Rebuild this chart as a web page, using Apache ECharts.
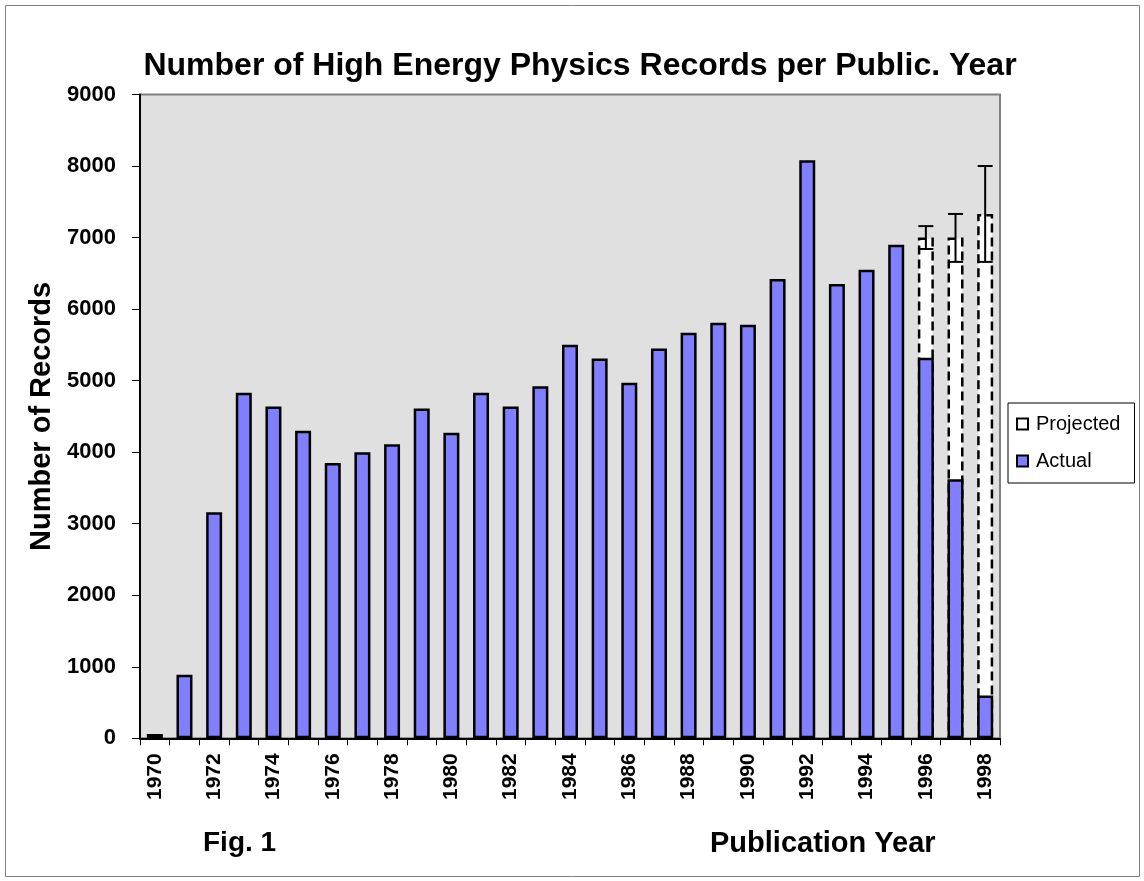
<!DOCTYPE html>
<html>
<head>
<meta charset="utf-8">
<script src="https://cdn.jsdelivr.net/npm/echarts@6/dist/echarts.min.js"></script>
<style>
html,body{margin:0;padding:0;background:#fff;}
#chart{width:1144px;height:881px;}
</style>
</head>
<body>
<div id="chart"></div>
<script>
const years = ['1970','1971','1972','1973','1974','1975','1976','1977','1978','1979','1980','1981','1982','1983','1984','1985','1986','1987','1988','1989','1990','1991','1992','1993','1994','1995','1996','1997','1998'];
const actual = [60, 890, 3160, 4830, 4640, 4300, 3850, 4000, 4110, 4610, 4270, 4830, 4640, 4920, 5500, 5310, 4970, 5450, 5670, 5810, 5780, 6420, 8080, 6350, 6550, 6900, 5320, 3620, 600];
const projected = [null,null,null,null,null,null,null,null,null,null,null,null,null,null,null,null,null,null,null,null,null,null,null,null,null,null, 7000, 7000, 7330];
const errYears = ['1996','1997','1998'];
const errLow = [6840, 6660, 6660];
const errHigh = [7160, 7330, 8000];
const yTicks = [0, 1000, 2000, 3000, 4000, 5000, 6000, 7000, 8000, 9000];

const FONT = '"Liberation Sans", Arial, sans-serif';
const chart = echarts.init(document.getElementById('chart'));

const errData = errYears.map((y, i) => [years.indexOf(y), errLow[i], errHigh[i]]);

chart.setOption({
  animation: false,
  backgroundColor: '#ffffff',
  textStyle: { fontFamily: FONT },
  title: {
    text: 'Number of High Energy Physics Records per Public. Year',
    left: 575, top: 45, textAlign: 'center',
    textStyle: { fontFamily: FONT, fontSize: 32, fontWeight: 'bold', color: '#000' }
  },
  grid: {
    left: 140, right: 144, top: 94.5, bottom: 142.7,
    show: true, backgroundColor: '#E0E0E0', borderColor: '#808080', borderWidth: 2
  },
  legend: {
    orient: 'vertical', left: 1008, top: 403,
    data: ['Projected', 'Actual'],
    icon: 'rect',
    backgroundColor: '#ffffff', borderColor: '#000', borderWidth: 1, borderRadius: 0,
    padding: [11, 14, 12, 8], itemGap: 17, itemWidth: 11, itemHeight: 11,
    textStyle: { fontFamily: FONT, fontSize: 20, color: '#000', padding: [0, 0, 0, 3] }
  },
  xAxis: {
    type: 'category', data: years, boundaryGap: true,
    axisLine: { lineStyle: { color: '#000', width: 2 } },
    axisTick: { show: true, alignWithLabel: false, interval: 0, length: 7, lineStyle: { color: '#000', width: 1 } },
    axisLabel: { interval: 1, rotate: 90, margin: 15, fontFamily: FONT, fontSize: 21, fontWeight: 'bold', color: '#000' },
    splitLine: { show: false }
  },
  yAxis: {
    type: 'value', min: 0, max: 9000, interval: 1000,
    name: 'Number of Records', nameLocation: 'middle', nameGap: 84, nameRotate: 90,
    nameTextStyle: { fontFamily: FONT, fontSize: 29, fontWeight: 'bold', color: '#000' },
    axisLine: { show: true, lineStyle: { color: '#000', width: 2 } },
    axisTick: { show: true, length: 8, lineStyle: { color: '#000', width: 1 } },
    axisLabel: {
      margin: 24, fontFamily: FONT, fontSize: 22, fontWeight: 'bold', color: '#000',
      formatter: v => yTicks.includes(v) ? String(v) : ''
    },
    splitLine: { show: false }
  },
  series: [
    {
      name: 'Projected', type: 'bar', data: projected, barWidth: 16, z: 2,
      itemStyle: { color: '#ffffff', borderColor: '#000', borderWidth: 2.5, borderType: [9, 5] }
    },
    {
      name: 'Actual', type: 'bar', data: actual, barWidth: 16, barGap: '-100%', z: 3,
      itemStyle: { color: '#8080FF', borderColor: '#000', borderWidth: 2.5 }
    },
    {
      name: 'err', type: 'custom', z: 4, data: errData,
      encode: { x: 0, y: [1, 2] },
      renderItem: function (params, api) {
        const x = api.value(0);
        const lo = api.coord([x, api.value(1)]);
        const hi = api.coord([x, api.value(2)]);
        const hw = 7.5;
        const st = { stroke: '#000', lineWidth: 2 };
        return {
          type: 'group',
          children: [
            { type: 'line', shape: { x1: lo[0], y1: lo[1], x2: hi[0], y2: hi[1] }, style: st },
            { type: 'line', shape: { x1: lo[0] - hw, y1: lo[1], x2: lo[0] + hw, y2: lo[1] }, style: st },
            { type: 'line', shape: { x1: hi[0] - hw, y1: hi[1], x2: hi[0] + hw, y2: hi[1] }, style: st }
          ]
        };
      }
    }
  ],
  graphic: [
    { type: 'rect', shape: { x: 5.5, y: 5.5, width: 1134, height: 871 }, style: { fill: null, stroke: '#808080', lineWidth: 1 }, silent: true, z: -10 },
    { type: 'text', left: 203, top: 829, style: { text: 'Fig. 1', font: 'bold 28px ' + FONT, fill: '#000' } },
    { type: 'text', left: 710, top: 829, style: { text: 'Publication Year', font: 'bold 29px ' + FONT, fill: '#000' } }
  ]
});
</script>
</body>
</html>
